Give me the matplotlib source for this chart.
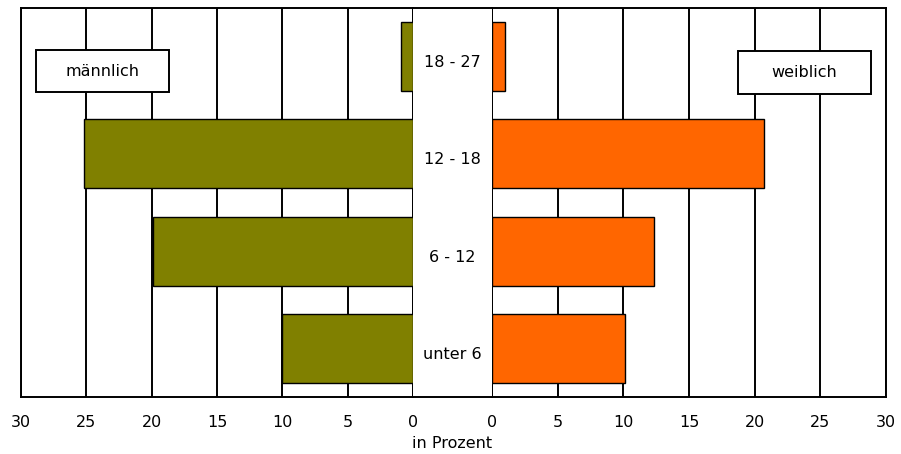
import matplotlib
matplotlib.use("Agg")
import matplotlib.pyplot as plt
from matplotlib.patches import Rectangle
from matplotlib.transforms import ScaledTranslation

plt.rcParams['font.family'] = ['DejaVu Sans']

categories = ["unter 6", "6 - 12", "12 - 18", "18 - 27"]
maennlich = [10.0, 19.9, 25.2, 0.9]
weiblich = [10.1, 12.3, 20.7, 1.0]
ticks = [0, 5, 10, 15, 20, 25, 30]
xmax = 30

W, H = 901, 454
fig = plt.figure(figsize=(W / 100, H / 100), dpi=100)
FS = 11.5

def fx(px):
    return px / W

def fy(py):
    return 1 - py / H

top, bottom = 8, 397
ax_h = (bottom - top) / H
ax_b = fy(bottom)

axL = fig.add_axes([fx(21), ax_b, fx(413 - 21), ax_h])
axR = fig.add_axes([fx(492), ax_b, fx(886 - 492), ax_h])
axM = fig.add_axes([fx(413), ax_b, fx(492 - 413), ax_h])

olive = "#808000"
orange = "#FF6600"
ypos = list(range(len(categories)))

for ax, vals, col in [(axL, maennlich, olive), (axR, weiblich, orange)]:
    ax.barh(ypos, vals, height=0.71, color=col, edgecolor="black", linewidth=1.0, zorder=3)
    ax.set_xlim(0, xmax)
    ax.set_ylim(-0.5, len(categories) - 0.5)
    ax.set_xticks(ticks)
    ax.set_xticklabels([str(t) for t in ticks], fontsize=FS)
    ax.tick_params(axis='x', length=0, pad=13)
    ax.set_yticks([])
    ax.grid(axis='x', color="black", linewidth=1.4, zorder=0)
    ax.set_axisbelow(True)
    for s in ax.spines.values():
        s.set_linewidth(1.4)
        s.set_color("black")

axL.set_xlim(xmax, 0)

axM.set_xlim(0, 1)
axM.set_ylim(-0.5, len(categories) - 0.5)
axM.set_xticks([])
axM.set_yticks([])
axM.spines['left'].set_visible(False)
axM.spines['right'].set_visible(False)
for s in ['top', 'bottom']:
    axM.spines[s].set_linewidth(1.4)
shift = axM.transData + ScaledTranslation(0, -6 / 100, fig.dpi_scale_trans)
for y, c in zip(ypos, categories):
    axM.text(0.5, y, c, ha='center', va='center', fontsize=FS, transform=shift)

fig.text(fx(452), fy(443), "in Prozent", ha='center', va='center', fontsize=FS)

for (x0, y0, x1, y1, label) in [(36, 50, 169, 92, "männlich"), (738, 51, 871, 94, "weiblich")]:
    r = Rectangle((fx(x0), fy(y1)), fx(x1 - x0), (y1 - y0) / H, transform=fig.transFigure,
                  facecolor="white", edgecolor="black", linewidth=1.4, zorder=5)
    fig.patches.append(r)
    fig.text(fx((x0 + x1) / 2), fy((y0 + y1) / 2), label, ha='center', va='center',
             fontsize=FS, zorder=6)

fig.savefig("out.png", dpi=100)
